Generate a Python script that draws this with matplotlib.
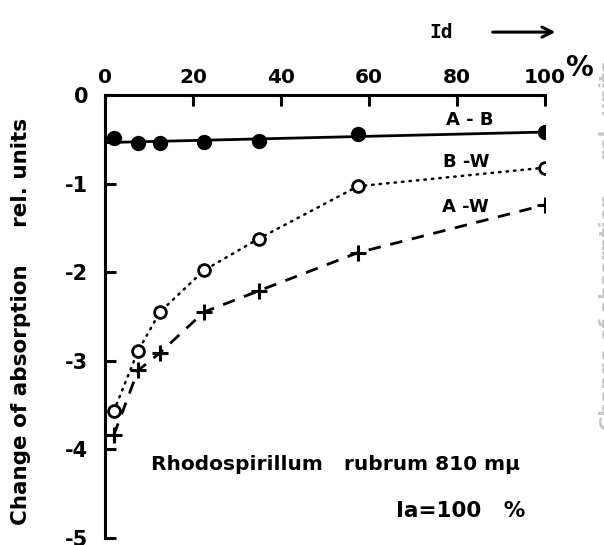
import numpy as np
import matplotlib
matplotlib.use("Agg")
import matplotlib.pyplot as plt

plt.rcParams['font.family'] = ['DejaVu Sans']
plt.rcParams['font.weight'] = 'bold'

# Id in %, and change of absorption (rel. units)
id_pct = [2, 7.5, 12.5, 22.5, 35, 57.5, 100]
a_b = [-0.49, -0.54, -0.54, -0.53, -0.52, -0.44, -0.42]
b_w = [-3.57, -2.89, -2.45, -1.98, -1.62, -1.03, -0.82]
a_w = [-3.84, -3.11, -2.91, -2.45, -2.21, -1.78, -1.24]

x_ticks = [0, 20, 40, 60, 80, 100]
y_ticks = [0, -1, -2, -3, -4, -5]
y_labels = ['0', '-1', '-2', '-3', '-4', '-5']

fig = plt.figure(figsize=(6.04, 5.45), dpi=100)
ax = fig.add_axes([0.1738, 0.013, 0.7285, 0.8127])

# A-B : straight line fitted through the filled points
k, b = np.polyfit(id_pct, a_b, 1)
xx = np.array([0, 100])
ax.plot(xx, k * xx + b, color='black', lw=2.0)
ax.plot(id_pct, a_b, 'o', color='black', ms=10)

# B-W dotted, open circles
ax.plot(id_pct, b_w, color='black', lw=1.8, linestyle=(0, (0.6, 2.4)),
        dash_capstyle='round')
ax.plot(id_pct, b_w, 'o', mfc='white', mec='black', mew=2, ms=8.5)

# A-W dashed, crosses
ax.plot(id_pct, a_w, color='black', lw=2.0, linestyle=(0, (4.5, 3.5)))
ax.plot(id_pct, a_w, '+', color='black', mew=2.2, ms=11)

ax.set_xlim(0, 100)
ax.set_ylim(-5, 0)

for side in ['right', 'bottom']:
    ax.spines[side].set_visible(False)
for side in ['left', 'top']:
    ax.spines[side].set_linewidth(2.2)

ax.xaxis.tick_top()
ax.set_xticks(x_ticks)
ax.set_xticklabels([str(t) for t in x_ticks], fontsize=14.5, fontweight='bold')
ax.tick_params(axis='x', direction='in', length=8, width=2.2, pad=6)
ax.set_yticks(y_ticks)
ax.set_yticklabels(y_labels, fontsize=15, fontweight='bold')
ax.tick_params(axis='y', direction='in', length=8, width=2.2, pad=12)
ax.tick_params(axis='y', which='both', right=False)

ax.set_ylabel('Change of absorption     rel. units', fontsize=15.5,
              fontweight='bold')
ax.yaxis.set_label_coords(-0.168, 0.488)

ax.text(1.045, 1.03, '%', transform=ax.transAxes, fontsize=20,
        fontweight='bold', ha='left', va='bottom')
ax.text(0.765, 1.142, 'Id', transform=ax.transAxes, fontsize=14,
        fontweight='bold', family='DejaVu Sans Mono', ha='center', va='center')
ax.annotate('', xy=(1.03, 1.142), xytext=(0.875, 1.142),
            xycoords='axes fraction',
            arrowprops=dict(arrowstyle='->', color='black', lw=2.2,
                            mutation_scale=18))

ax.text(83, -0.28, 'A - B', fontsize=13, fontweight='bold', ha='center', va='center')
ax.text(82, -0.76, 'B -W', fontsize=13, fontweight='bold', ha='center', va='center')
ax.text(82, -1.27, 'A -W', fontsize=13, fontweight='bold', ha='center', va='center')

ax.text(52.5, -4.17, 'Rhodospirillum   rubrum 810 m\u03bc', fontsize=14.5,
        fontweight='bold', ha='center', va='center')
ax.text(95.5, -4.70, 'Ia=100   %', fontsize=15.5, fontweight='bold',
        ha='right', va='center')

# cut-off label of the neighbouring panel
fig.text(1.008, 0.55, 'Change of absorption     rel. units', rotation=90,
         fontsize=14, fontweight='bold', color='#c8c8c8',
         ha='center', va='center')

fig.savefig('out.png', dpi=100)
